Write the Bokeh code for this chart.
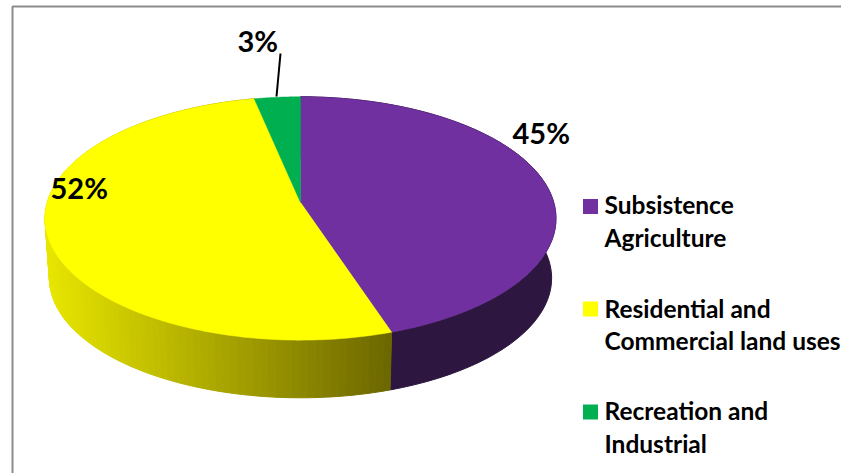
import numpy as np
from bokeh.plotting import figure
from bokeh.models import ColumnDataSource
from bokeh.core.properties import value
from bokeh.embed import file_html
from bokeh.resources import INLINE

categories = ["Subsistence Agriculture", "Residential and Commercial land uses", "Recreation and Industrial"]
shares = [44.9, 51.8, 3.3]
pct_labels = ["45%", "52%", "3%"]
legend_lines = [["Subsistence", "Agriculture"], ["Residential and", "Commercial land uses"], ["Recreation and", "Industrial"]]
top_colors = ["#7030a0", "#ffff00", "#00b050"]

W, H = 841, 473
FONT = "Lato"
p = figure(width=W, height=H, x_range=(0, W), y_range=(H, 0), output_backend="svg",
           toolbar_location=None, min_border=0, outline_line_color=None,
           background_fill_color="white", border_fill_color="white")
p.axis.visible = False
p.grid.visible = False

CX, CY = 300.0, 202.0
A, B, K = 253.3, 119.6, 0.131


def project(theta, scale=1.0, dy=0.0):
    u, v = np.sin(theta), -np.cos(theta)
    w = 1 - K * v
    return CX + scale * A * u / w, CY + dy + scale * B * v / w


fr = np.cumsum([0] + shares) / sum(shares) * 2 * np.pi
SC, DY = 0.983, 60.0

xs, ys, cs = [], [], []
for i, col in enumerate(top_colors):
    n = 120 if i == 1 else 60
    th = np.linspace(fr[i], fr[i + 1], n + 1)
    if i == 1:
        for a, b in zip(th[:-1], th[1:]):
            x1, y1 = project(np.array([a, b]))
            x2, y2 = project(np.array([b, a]), SC, DY)
            t = np.clip((392 - (x1.mean())) / (392 - 46), 0, 1)
            r = int(108 + t * (232 - 108)); g = int(102 + t * (230 - 102))
            xs.append(list(x1) + list(x2)); ys.append(list(y1) + list(y2))
            cs.append(f"#{r:02x}{g:02x}00")
    elif i == 0:
        x1, y1 = project(th)
        x2, y2 = project(th[::-1], SC, DY)
        xs.append(list(x1) + list(x2)); ys.append(list(y1) + list(y2))
        cs.append("#2d1640")
p.patches(xs="xs", ys="ys", fill_color="cs", line_color="cs", line_width=1,
          source=ColumnDataSource(dict(xs=xs, ys=ys, cs=cs)))

# top face
fx, fy = [], []
for i in range(len(shares)):
    th = np.linspace(fr[i], fr[i + 1], 200)
    x, y = project(th)
    fx.append([CX] + list(x)); fy.append([CY] + list(y))
p.patches(xs="x", ys="y", fill_color="c", line_color="c", line_width=0.5,
          source=ColumnDataSource(dict(x=fx, y=fy, c=top_colors)))

# chart frame
p.line([12, 12, W], [H, 6, 6], line_color="#8c8c8c", line_width=2)

# data labels
p.text(x=[512, 50, 237], y=[132, 187, 40], text=pct_labels, text_font=value(FONT),
       text_font_style="bold", text_font_size="29px", text_color="black",
       text_baseline="alphabetic", text_align="left")
p.line([280, 276], [53, 96], line_color="black", line_width=2)

# legend
p.scatter(x=[590, 590, 590], y=[206, 308.5, 411.5], marker="square", size=15,
          fill_color=top_colors, line_color=None)
tx, ty = [], []
for lines, y0 in zip(legend_lines, [204, 307.5, 410]):
    for j, t in enumerate(lines):
        tx.append(t); ty.append(y0 + j * 32.5)
p.text(x=[604] * len(tx), y=ty, text=tx, text_font=value(FONT), text_font_size="24.5px",
       text_font_style="bold", text_color="black", text_baseline="alphabetic", text_align="left")

open("out.html", "w").write(file_html(p, INLINE))
